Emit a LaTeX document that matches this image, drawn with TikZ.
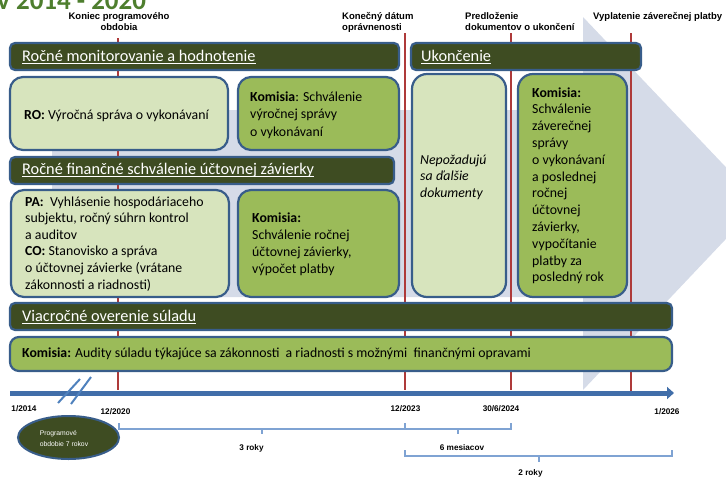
\documentclass[tikz,border=0pt]{standalone}
\usepackage{fontspec}
\setmainfont{Carlito}
\newfontfamily\arialf{Liberation Sans}
\usetikzlibrary{arrows.meta,shapes.geometric,fit}
\definecolor{hdr}{HTML}{3E4C22}
\definecolor{bord}{HTML}{385D8A}
\definecolor{lgreen}{HTML}{D7E4BD}
\definecolor{mgreen}{HTML}{9BBB59}
\definecolor{bgarrow}{HTML}{D5DBE8}
\definecolor{redl}{HTML}{AE3A3A}
\definecolor{tline}{HTML}{416EA9}
\definecolor{brc}{HTML}{7FA3D3}
\definecolor{brkc}{HTML}{4F81BD}
\definecolor{ttl}{HTML}{4E7E2E}
\newcommand\mlines[1]{\begin{tabular}[t]{@{}l@{}}#1\end{tabular}}
\newcommand\mlinesc[1]{\begin{tabular}[t]{@{}c@{}}#1\end{tabular}}
\newcommand\uln[1]{\leavevmode\setbox0\hbox{#1}\rlap{\rule[-3.4pt]{\wd0}{1pt}}\box0}
\begin{document}
\begin{tikzpicture}[x=1pt,y=-1pt,
  bar/.style={draw=bord, line width=2.2pt, fill=hdr, rounded corners=5pt, inner sep=0pt},
  lbox/.style={draw=bord, line width=2.2pt, fill=lgreen, rounded corners=13pt, inner sep=0pt},
  gbox/.style={draw=bord, line width=2.2pt, fill=mgreen, rounded corners=13pt, inner sep=0pt},
  hdrtxt/.style={anchor=base west, inner sep=0pt, text=white, font=\fontsize{16.3}{19}\selectfont},
  bodytxt/.style={anchor=base west, inner sep=0pt, font=\fontsize{13.8}{17}\selectfont},
  toplbl/.style={anchor=base west, inner sep=0pt, font=\arialf\bfseries\fontsize{9.5}{11.2}\selectfont},
  datelbl/.style={anchor=base, inner sep=0pt, font=\arialf\bfseries\fontsize{8.2}{10}\selectfont},
  redline/.style={draw=redl, line width=2pt},
  bracket/.style={draw=brc, line width=1.2pt},
  brk/.style={draw=brkc, line width=2pt},
]
\useasboundingbox (0,0) rectangle (726,477);
% background arrow
\fill[bgarrow] (52,110) -- (583,110) -- (583,17) -- (760,203) -- (583,390) -- (583,297) -- (52,297) -- cycle;
% title (cut off at top)
\node[anchor=base west, inner sep=0pt, text=ttl, font=\bfseries\fontsize{27}{32}\selectfont] (title) at (-3,9.5) {v 2014 - 2020};
% red milestone lines
\coordinate (l1t) at (118,38);  \coordinate (l1b) at (118,390);
\coordinate (l2t) at (405,33);  \coordinate (l2b) at (405,390);
\coordinate (l3t) at (511,33);  \coordinate (l3b) at (511,390);
\coordinate (l4t) at (631,33);  \coordinate (l4b) at (631,391);
\draw[redline] (l1t) -- (l1b);
\draw[redline] (l2t) -- (l2b);
\draw[redline] (l3t) -- (l3b);
\draw[redline] (l4t) -- (l4b);
% top labels
\node[toplbl, anchor=base] (lab1) at (119,19.5) {\mlinesc{Koniec programového\\obdobia}};
\node[toplbl] (lab2) at (342,19) {\mlines{Konečný dátum\\oprávnenosti}};
\node[toplbl] (lab3) at (465,19) {\mlines{Predloženie\\dokumentov o ukončení}};
\node[toplbl] (lab4) at (593,19) {Vyplatenie záverečnej platby};
% boxes
\node[bar, fit={(10,43)(399,70)}] (bar1) {};
\node[bar, fit={(411,43)(641,70)}] (bar4) {};
\node[lbox, fit={(10,77)(228,150)}] (ro) {};
\node[gbox, fit={(238,77)(399,150)}] (kom1) {};
\node[bar, fit={(10,157)(394,184)}] (bar2) {};
\node[lbox, fit={(11,190)(229,297)}] (pa) {};
\node[gbox, fit={(238,190)(399,297)}] (kom2) {};
\node[lbox, rounded corners=15pt, fit={(412,74)(506,297)}] (nep) {};
\node[gbox, rounded corners=15pt, fit={(518,74)(627,297)}] (kom3) {};
\node[bar, fit={(10,303)(672,330)}] (bar3) {};
\node[gbox, rounded corners=9pt, fit={(10,337)(672,371)}] (audit) {};
% box texts
\node[hdrtxt] (bar1t) at (22,61) {\uln{Ročné monitorovanie a hodnotenie}};
\node[hdrtxt] (bar4t) at (421,61) {\uln{Ukončenie}};
\node[hdrtxt] (bar2t) at (22,174) {\uln{Ročné finančné schválenie účtovnej závierky}};
\node[hdrtxt] (bar3t) at (22,321) {\uln{Viacročné overenie súladu}};
\node[bodytxt] (rot) at (24,119) {\textbf{RO:} Výročná správa o vykonávaní};
\node[bodytxt, font=\fontsize{13.8}{17.6}\selectfont] (kom1t) at (250,101) {\mlines{\textbf{Komisia}: Schválenie\\výročnej správy\\o vykonávaní}};
\node[bodytxt, font=\fontsize{13.8}{16.6}\selectfont] (pat) at (25,206) {\mlines{\textbf{PA:}\ \ Vyhlásenie hospodáriaceho\\subjektu, ročný súhrn kontrol\\a auditov\\\textbf{CO:} Stanovisko a správa\\o účtovnej závierke (vrátane\\zákonnosti a riadnosti)}};
\node[bodytxt] (kom2t) at (252,222) {\mlines{\textbf{Komisia:}\\Schválenie ročnej\\účtovnej závierky,\\výpočet platby}};
\node[bodytxt, font=\itshape\fontsize{13.8}{16.5}\selectfont] (nept) at (420,164) {\mlines{Nepožadujú\\sa ďalšie\\dokumenty}};
\node[bodytxt, font=\fontsize{13.8}{16.8}\selectfont] (kom3t) at (532,97) {\mlines{\textbf{Komisia:}\\Schválenie\\záverečnej\\správy\\o vykonávaní\\a poslednej\\ročnej\\účtovnej\\závierky,\\vypočítanie\\platby za\\posledný rok}};
\node[bodytxt] (auditt) at (22,357) {\textbf{Komisia:} Audity súladu týkajúce sa zákonnosti \ a riadnosti s možnými \ finančnými opravami};
% timeline
\coordinate (ts) at (10,393);
\coordinate (te) at (674,393);
\draw[tline, line width=5pt, -{Triangle[length=7pt,width=12pt]}] (ts) -- (te);
% break marks
\draw[brk] (58,403) -- (80,379);
\draw[brk] (71,404) -- (91,377);
% dates
\node[datelbl] (d1) at (24,411) {1/2014};
\node[datelbl] (d2) at (115.5,414) {12/2020};
\node[datelbl] (d3) at (405.5,411) {12/2023};
\node[datelbl] (d4) at (501,411) {30/6/2024};
\node[datelbl] (d5) at (667,414) {1/2026};
% programme period ellipse
\node[ellipse, draw=bord, line width=2pt, fill=hdr, minimum width=101pt, minimum height=43pt, inner sep=0pt] (prog) at (68.5,437.5) {};
\node[inner sep=0pt, text=white, font=\arialf\fontsize{6.8}{11}\selectfont, align=left] (progt) at (64,438.5) {Programové\\obdobie 7 rokov};
% brackets
\draw[bracket] (119,423) -- (119,429) -- (405,429) -- (405,423);
\draw[bracket] (262,429) -- (262,434);
\draw[bracket] (405,423) -- (405,429) -- (511,429) -- (511,423);
\draw[bracket] (458,429) -- (458,434);
\draw[bracket] (405,450) -- (405,456) -- (672,456) -- (672,450);
\draw[bracket] (539,456) -- (539,462);
\node[datelbl] (br1) at (251.5,450) {3 roky};
\node[datelbl] (br2) at (462,450) {6 mesiacov};
\node[datelbl] (br3) at (530.5,475.5) {2 roky};
\end{tikzpicture}
\end{document}
